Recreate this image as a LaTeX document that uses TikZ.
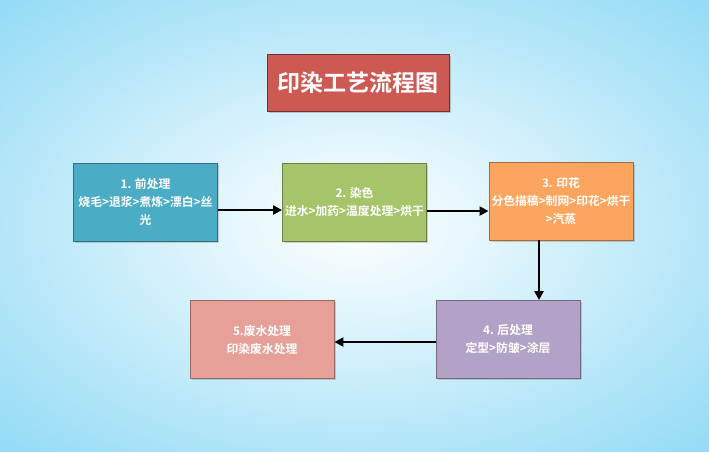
\documentclass[tikz,border=0pt]{standalone}
\usepackage{fontspec}
\setmainfont{Noto Sans CJK SC}
\newfontfamily\cjkb{Noto Sans CJK SC Bold}
\usetikzlibrary{arrows.meta,shadows}
\definecolor{bgout}{RGB}{150,220,246}
\definecolor{cA}{RGB}{75,172,198}
\definecolor{cB}{RGB}{166,196,106}
\definecolor{cC}{RGB}{251,165,94}
\definecolor{cD}{RGB}{179,162,199}
\definecolor{cE}{RGB}{230,160,152}
\definecolor{cT}{RGB}{205,90,82}
\tikzset{
  stepbox/.style={minimum width=144pt,minimum height=78pt,inner sep=1pt,
    draw=#1!65!black,line width=0.9pt,fill=#1,text=white,align=center,
    font=\cjkb\fontsize{11.8}{18}\selectfont,
    drop shadow={shadow xshift=1.5pt,shadow yshift=-1.5pt,opacity=0.35}},
  titlebox/.style={minimum width=182pt,minimum height=57pt,inner sep=2pt,
    draw=#1!55!black,line width=1pt,fill=#1,text=white,
    font=\cjkb\fontsize{23}{26}\selectfont,
    drop shadow={shadow xshift=1.5pt,shadow yshift=-1.5pt,opacity=0.4}},
  arr/.style={line width=2.8pt,-{Triangle[length=9pt,width=9pt]}}
}
\begin{document}
\begin{tikzpicture}[x=1pt,y=-1pt]
\useasboundingbox (0,0) rectangle (709,451);
\shade[inner color=white,outer color=bgout] (-140,-80) rectangle (849,531);
\node[titlebox=cT] (t) at (358,82.5) {印染工艺流程图};
\node[stepbox=cA] (b1) at (145.5,202) {1. 前处理\\烧毛>退浆>煮炼>漂白>丝\\光};
\node[stepbox=cB] (b2) at (354.5,202) {2. 染色\\进水>加药>温度处理>烘干};
\node[stepbox=cC] (b3) at (561,201) {3. 印花\\分色描稿>制网>印花>烘干\\>汽蒸};
\node[stepbox=cD] (b4) at (508,339.5) {4. 后处理\\定型>防皱>涂层};
\node[stepbox=cE] (b5) at (262,339.5) {5.废水处理\\印染废水处理};
\draw[arr] (b1.east |- 0,210) -- (b2.west |- 0,210);
\draw[arr] (b2.east |- 0,211) -- (b3.west |- 0,211);
\draw[arr] (b3.south -| 539,0) -- (b4.north -| 539,0);
\draw[arr] (b4.west |- 0,342) -- (b5.east |- 0,342);
\end{tikzpicture}
\end{document}
